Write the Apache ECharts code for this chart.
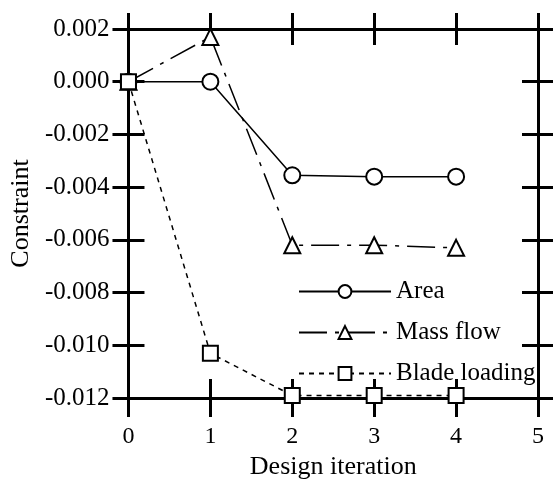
<!DOCTYPE html>
<html>
<head>
<meta charset="utf-8">
<script src="https://cdn.jsdelivr.net/npm/echarts@6/dist/echarts.min.js"></script>
<style>html,body{margin:0;padding:0;background:#fff}#c{width:553px;height:485px}</style>
</head>
<body>
<div id="c"></div>
<script>
var iterations = [0, 1, 2, 3, 4];
var areaValues = [0, 0, -0.00355, -0.0036, -0.0036];
var massFlowValues = [0, 0.0017, -0.0062, -0.0062, -0.0063];
var bladeLoadingValues = [0, -0.0103, -0.0119, -0.0119, -0.0119];
var seriesNames = ['Area', 'Mass flow', 'Blade loading'];
var xName = 'Design iteration';
var yName = 'Constraint';

function pairs(vals) { return iterations.map(function (x, i) { return [x, vals[i]]; }); }

var FONT = '"Liberation Serif", "Times New Roman", serif';
var chart = echarts.init(document.getElementById('c'), null, { renderer: 'canvas' });

var axisLine = { show: true, onZero: false, lineStyle: { color: '#000', width: 3 } };
function xAx(pos, inside, labels) {
  return {
    type: 'value', min: 0, max: 5, interval: 1, position: pos,
    axisLine: axisLine,
    axisTick: { show: true, inside: inside, length: pos === 'bottom' ? 19 : 16, lineStyle: { color: '#000', width: 3 } },
    axisLabel: { show: labels, color: '#000', fontFamily: FONT, fontSize: 24, margin: 27 },
    splitLine: { show: false },
    name: labels ? xName : '', nameLocation: 'middle', nameGap: 52,
    nameTextStyle: { color: '#000', fontFamily: FONT, fontSize: 26 }
  };
}
function yAx(pos, inside, labels) {
  return {
    type: 'value', min: -0.012, max: 0.002, interval: 0.002, position: pos,
    axisLine: axisLine,
    axisTick: { show: true, inside: inside, length: 16, lineStyle: { color: '#000', width: 3 } },
    axisLabel: { show: labels, color: '#000', fontFamily: FONT, fontSize: 25, margin: 19,
      formatter: function (v) { return v.toFixed(3); } },
    splitLine: { show: false },
    name: labels ? yName : '', nameLocation: 'middle', nameGap: 92,
    nameTextStyle: { color: '#000', fontFamily: FONT, fontSize: 26 }
  };
}

chart.setOption({
  backgroundColor: '#fff',
  animation: false,
  grid: { left: 123, right: 15, top: 29, bottom: 76 },
  xAxis: [xAx('bottom', false, true), xAx('bottom', true, false), xAx('top', false, false), xAx('top', true, false)],
  yAxis: [yAx('left', false, true), yAx('left', true, false), yAx('right', false, false), yAx('right', true, false)],
  legend: {
    orient: 'vertical', left: 293, top: 274, itemGap: 16,
    itemWidth: 92, itemHeight: 16,
    textStyle: { color: '#000', fontFamily: FONT, fontSize: 25 },
    data: seriesNames
  },
  series: [
    { name: seriesNames[0], type: 'line', data: pairs(areaValues), symbol: 'emptyCircle', symbolSize: 16,
      lineStyle: { color: '#000', width: 1.5, type: 'solid' }, itemStyle: { color: '#000', borderColor: '#000', borderWidth: 1.5 } },
    { name: seriesNames[1], type: 'line', data: pairs(massFlowValues), symbol: 'emptyTriangle', symbolSize: 16,
      lineStyle: { color: '#000', width: 1.5, type: [28, 8, 4, 8] }, itemStyle: { color: '#000', borderColor: '#000', borderWidth: 1.5 } },
    { name: seriesNames[2], type: 'line', data: pairs(bladeLoadingValues), symbol: 'emptyRect', symbolSize: 15,
      lineStyle: { color: '#000', width: 1.5, type: [5, 5] }, itemStyle: { color: '#000', borderColor: '#000', borderWidth: 1.5 } }
  ]
});
</script>
</body>
</html>
